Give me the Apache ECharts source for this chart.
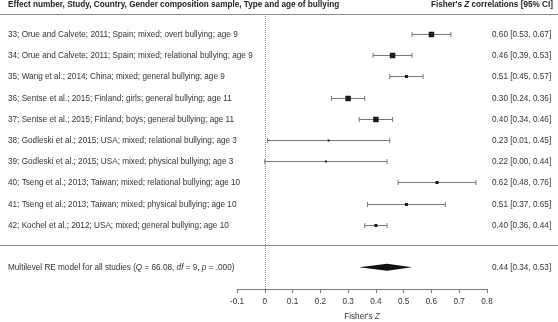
<!DOCTYPE html>
<html>
<head>
<meta charset="utf-8">
<script src="https://cdn.jsdelivr.net/npm/echarts@6/dist/echarts.min.js"></script>
<style>
  html, body { margin: 0; padding: 0; background: #fff; }
  #chartContainer { width: 558px; height: 322px; }
</style>
</head>
<body>
<div id="chartContainer"></div>
<script>
// Study rows, top to bottom
const studyLabels = [
    '33; Orue and Calvete; 2011; Spain; mixed; overt bullying; age 9',
    '34; Orue and Calvete; 2011; Spain; mixed; relational bullying; age 9',
    '35; Wang et al.; 2014; China; mixed; general bullying; age 9',
    '36; Sentse et al.; 2015; Finland; girls; general bullying; age 11',
    '37; Sentse et al.; 2015; Finland; boys; general bullying; age 11',
    '38; Godleski et al.; 2015; USA; mixed; relational bullying; age 3',
    '39; Godleski et al.; 2015; USA; mixed; physical bullying; age 3',
    '40; Tseng et al.; 2013; Taiwan; mixed; relational bullying; age 10',
    '41; Tseng et al.; 2013; Taiwan; mixed; physical bullying; age 10',
    '42; Kochel et al.; 2012; USA; mixed; general bullying; age 10'
];
const estimates = [0.60, 0.46, 0.51, 0.30, 0.40, 0.23, 0.22, 0.62, 0.51, 0.40];
const lowerCI   = [0.53, 0.39, 0.45, 0.24, 0.34, 0.01, 0.00, 0.48, 0.37, 0.36];
const upperCI   = [0.67, 0.53, 0.57, 0.36, 0.46, 0.45, 0.44, 0.76, 0.65, 0.44];
// relative study weights (square size)
const weights   = [5.5, 5.5, 3, 5.5, 5.5, 2, 2, 3, 3, 3];

// Pooled model
const summaryEstimate = [0.44];
const summaryLower = [0.34];
const summaryUpper = [0.53];
const qStat = '66.08';
const dfStat = '9';
const pStat = '.000';

const FONT = '"Liberation Sans", Arial, sans-serif';
const FS = 8.2;
const TEXT_COLOR = '#333';
const LINE_COLOR = '#777';

function fmtCI(est, lo, hi) {
    return est.toFixed(2) + ' [' + lo.toFixed(2) + ', ' + hi.toFixed(2) + ']';
}

const studyData = estimates.map((est, i) => [i + 1, est, lowerCI[i], upperCI[i], weights[i]]);
const summaryData = summaryEstimate.map((est, i) => [12, est, summaryLower[i], summaryUpper[i]]);

function renderStudy(params, api) {
    const i = params.dataIndex;
    const row = api.value(0);
    const c = api.coord([api.value(1), row]);
    const lo = api.coord([api.value(2), row]);
    const hi = api.coord([api.value(3), row]);
    const s = api.value(4);
    const y = Math.round(c[1]) + 0.5;
    const lineStyle = { stroke: LINE_COLOR, lineWidth: 1 };
    return {
        type: 'group',
        children: [
            { type: 'line', shape: { x1: lo[0], y1: y, x2: hi[0], y2: y }, style: lineStyle },
            { type: 'line', shape: { x1: lo[0], y1: y - 2.5, x2: lo[0], y2: y + 2.5 }, style: lineStyle },
            { type: 'line', shape: { x1: hi[0], y1: y - 2.5, x2: hi[0], y2: y + 2.5 }, style: lineStyle },
            { type: 'rect', shape: { x: c[0] - s / 2, y: y - s / 2, width: s, height: s }, style: { fill: '#1a1a1a' } },
            {
                type: 'text', x: 8, y: y,
                style: { text: studyLabels[i], fill: TEXT_COLOR, font: FS + 'px ' + FONT, verticalAlign: 'middle', align: 'left' }
            },
            {
                type: 'text', x: 492, y: y,
                style: { text: fmtCI(api.value(1), api.value(2), api.value(3)), fill: TEXT_COLOR, font: FS + 'px ' + FONT, verticalAlign: 'middle', align: 'left' }
            }
        ]
    };
}

function renderSummary(params, api) {
    const row = api.value(0);
    const c = api.coord([api.value(1), row]);
    const lo = api.coord([api.value(2), row]);
    const hi = api.coord([api.value(3), row]);
    const h = 3.5;
    return {
        type: 'group',
        children: [
            {
                type: 'polygon',
                shape: { points: [[lo[0], c[1]], [c[0], c[1] - h], [hi[0], c[1]], [c[0], c[1] + h]] },
                style: { fill: '#111' }
            },
            {
                type: 'text', x: 8, y: c[1],
                style: {
                    text: '{n|Multilevel RE model for all studies (}{i|Q}{n| = ' + qStat + ', }{i|df}{n| = ' + dfStat + ', }{i|p}{n| = ' + pStat + ')}',
                    verticalAlign: 'middle', align: 'left',
                    rich: {
                        n: { fontFamily: FONT, fontSize: FS, fill: TEXT_COLOR },
                        i: { fontFamily: FONT, fontSize: FS, fontStyle: 'italic', fill: TEXT_COLOR }
                    }
                }
            },
            {
                type: 'text', x: 492, y: c[1],
                style: { text: fmtCI(api.value(1), api.value(2), api.value(3)), fill: TEXT_COLOR, font: FS + 'px ' + FONT, verticalAlign: 'middle', align: 'left' }
            }
        ]
    };
}

const myChart = echarts.init(document.getElementById('chartContainer'));

const option = {
    animation: false,
    grid: { left: 237, right: 71, top: 14, bottom: 33, outerBoundsMode: 'none', containLabel: false },
    xAxis: {
        type: 'value',
        min: -0.1,
        max: 0.8,
        interval: 0.1,
        axisLine: { lineStyle: { color: LINE_COLOR } },
        axisTick: { show: true, length: 4, lineStyle: { color: LINE_COLOR } },
        splitLine: { show: false },
        axisLabel: {
            color: TEXT_COLOR, fontFamily: FONT, fontSize: FS, margin: 9,
            formatter: v => String(Math.round(v * 10) / 10)
        },
        name: "{n|Fisher's }{i|Z}",
        nameLocation: 'middle',
        nameGap: 24,
        nameTextStyle: {
            rich: {
                n: { fontFamily: FONT, fontSize: FS, color: TEXT_COLOR },
                i: { fontFamily: FONT, fontSize: FS, fontStyle: 'italic', color: TEXT_COLOR }
            }
        }
    },
    yAxis: { type: 'value', inverse: true, min: 0.06, max: 13.02, show: false },
    graphic: [
        {
            type: 'text', left: 8, top: 1,
            style: {
                text: 'Effect number, Study, Country, Gender composition sample, Type and age of bullying',
                font: 'bold ' + FS + 'px ' + FONT, fill: '#222'
            }
        },
        {
            type: 'text', right: 5, top: 1,
            style: {
                text: "{b|Fisher's }{bi|Z}{b| correlations [95% CI]}",
                rich: {
                    b: { fontFamily: FONT, fontSize: FS, fontWeight: 'bold', fill: '#222' },
                    bi: { fontFamily: FONT, fontSize: FS, fontWeight: 'bold', fontStyle: 'italic', fill: '#222' }
                }
            }
        },
        { type: 'line', shape: { x1: 0, y1: 14.5, x2: 558, y2: 14.5 }, style: { stroke: '#888', lineWidth: 1 } },
        { type: 'line', shape: { x1: 0, y1: 245.5, x2: 558, y2: 245.5 }, style: { stroke: '#888', lineWidth: 1 } }
    ],
    series: [
        {
            type: 'custom',
            renderItem: renderStudy,
            data: studyData,
            encode: { x: [1, 2, 3], y: 0 },
            markLine: {
                silent: true,
                symbol: 'none',
                label: { show: false },
                lineStyle: { type: 'dotted', color: '#999', width: 1 },
                data: [{ xAxis: 0 }]
            }
        },
        {
            type: 'custom',
            renderItem: renderSummary,
            data: summaryData,
            encode: { x: [1, 2, 3], y: 0 }
        }
    ]
};

myChart.setOption(option);
</script>
</body>
</html>
